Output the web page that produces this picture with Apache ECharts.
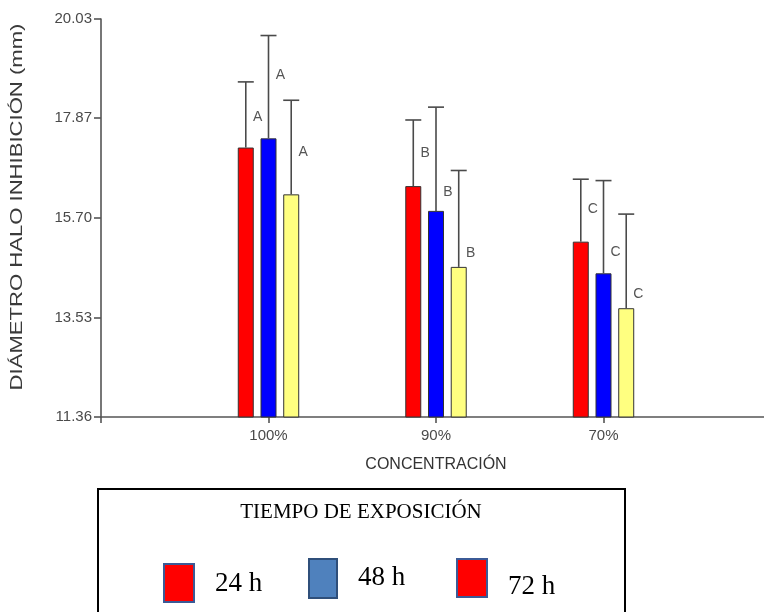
<!DOCTYPE html>
<html>
<head>
<meta charset="utf-8">
<script src="https://cdn.jsdelivr.net/npm/echarts@6/dist/echarts.min.js"></script>
<style>
  html, body { margin: 0; padding: 0; background: #fff; }
  #chart { width: 764px; height: 612px; }
</style>
</head>
<body>
<div id="chart"></div>
<script>
// Inhibition halo diameter (mm) by concentration and exposure time
const categories = ['100%', '90%', '70%'];
const seriesNames = ['24 h', '48 h', '72 h'];
const mean24 = [17.23, 16.39, 15.18];
const mean48 = [17.43, 15.85, 14.49];
const mean72 = [16.21, 14.63, 13.73];
const sd24 = [1.43, 1.44, 1.36];
const sd48 = [2.24, 2.26, 2.02];
const sd72 = [2.05, 2.10, 2.05];
const letters = ['A', 'B', 'C'];
const yTicks = [11.36, 13.53, 15.70, 17.87, 20.03];

const means = [mean24, mean48, mean72];
const sds = [sd24, sd48, sd72];
const barColors = ['#ff0000', '#0000ff', '#ffff80'];

// bar geometry (pixels)
const BAR_W = 16;
const BAR_GAP = 0.42;
const STEP = BAR_W * (1 + BAR_GAP);
// how far above each bar top its significance letter sits (px), per concentration row
const letterRise = [[30, 63, 42], [33, 19, 14], [33, 21, 14]];

const axisCats = [''].concat(categories, [' ']);
const SANS = '"Liberation Sans", Arial, sans-serif';
const SERIF = '"Liberation Serif", "Times New Roman", serif';

const barSeries = means.map((m, k) => ({
  name: seriesNames[k],
  type: 'bar',
  barWidth: BAR_W,
  barGap: (BAR_GAP * 100) + '%',
  itemStyle: { color: barColors[k], borderColor: '#333', borderWidth: 1 },
  data: categories.map((c, i) => [c, m[i]]),
  z: 2
}));

const errSeries = means.map((m, k) => ({
  name: seriesNames[k] + ' sd',
  type: 'custom',
  z: 3,
  clip: false,
  data: categories.map((c, i) => [c, m[i], sds[k][i], letters[i], i]),
  encode: { x: 0, y: 1 },
  renderItem: function (params, api) {
    const cat = api.value(0);
    const mu = api.value(1);
    const sd = api.value(2);
    const row = api.value(4);
    const base = api.coord([cat, mu]);
    const top = api.coord([cat, mu + sd]);
    const x = base[0] + (k - 1) * STEP;
    const half = BAR_W / 2;
    const lineStyle = { stroke: '#4a4a4a', lineWidth: 1.6 };
    return {
      type: 'group',
      children: [
        { type: 'line', shape: { x1: x, y1: base[1], x2: x, y2: top[1] }, style: lineStyle },
        { type: 'line', shape: { x1: x - half, y1: top[1], x2: x + half, y2: top[1] }, style: lineStyle },
        {
          type: 'text',
          x: x + 12,
          y: base[1] - letterRise[row][k],
          style: {
            text: letters[row],
            font: '14px ' + SANS,
            fill: '#555',
            align: 'center',
            verticalAlign: 'middle',
            textAlign: 'center',
            textVerticalAlign: 'middle'
          }
        }
      ]
    };
  }
}));

// legend box elements
const legendItems = [
  { label: seriesNames[0], fill: '#ff0000', stroke: '#3b5a96', rect: [164, 564, 30, 38], tx: 215, ty: 597 },
  { label: seriesNames[1], fill: '#4f81bd', stroke: '#2f4f7a', rect: [309, 559, 28, 39], tx: 358, ty: 591 },
  { label: seriesNames[2], fill: '#ff0000', stroke: '#3b5a96', rect: [457, 559, 30, 38], tx: 508, ty: 600 }
];
const legendGraphics = [
  {
    type: 'rect',
    shape: { x: 98, y: 489, width: 527, height: 140 },
    style: { fill: '#fff', stroke: '#000', lineWidth: 2 },
    z: 10
  },
  {
    type: 'text',
    x: 361, y: 512,
    style: {
      text: 'TIEMPO DE EXPOSICIÓN', font: '21px ' + SERIF, fill: '#000',
      align: 'center', verticalAlign: 'middle', textAlign: 'center', textVerticalAlign: 'middle'
    },
    z: 11
  }
];
legendItems.forEach(it => {
  legendGraphics.push({
    type: 'rect',
    shape: { x: it.rect[0], y: it.rect[1], width: it.rect[2], height: it.rect[3] },
    style: { fill: it.fill, stroke: it.stroke, lineWidth: 2 },
    z: 11
  });
  legendGraphics.push({
    type: 'text',
    x: it.tx, y: it.ty,
    style: {
      text: it.label, font: '27px ' + SERIF, fill: '#000',
      align: 'left', verticalAlign: 'alphabetic', textAlign: 'left', textVerticalAlign: 'bottom'
    },
    z: 11
  });
});

// vertical axis title, stretched along its length
legendGraphics.push({
  type: 'text',
  x: 18, y: 207,
  rotation: Math.PI / 2,
  scaleX: 1.38,
  style: {
    text: 'DIÁMETRO HALO INHIBICIÓN (mm)', font: '16px ' + SANS, fill: '#3a3a3a',
    align: 'center', verticalAlign: 'middle', textAlign: 'center', textVerticalAlign: 'middle'
  }
});

const option = {
  animation: false,
  backgroundColor: '#fff',
  grid: {
    left: 101, width: 670, top: 19, bottom: 195,
    containLabel: false,
    outerBoundsMode: 'none'
  },
  xAxis: {
    type: 'category',
    data: axisCats,
    boundaryGap: false,
    name: 'CONCENTRACIÓN',
    nameLocation: 'middle',
    nameGap: 40,
    nameTextStyle: { fontFamily: SANS, fontSize: 16, color: '#333' },
    axisLine: { lineStyle: { color: '#555', width: 1.6 } },
    axisTick: { length: 6, lineStyle: { color: '#555', width: 1.6 } },
    axisLabel: { fontFamily: SANS, fontSize: 15, color: '#4a4a4a', margin: 11 },
    splitLine: { show: false }
  },
  yAxis: {
    type: 'value',
    min: yTicks[0],
    max: yTicks[yTicks.length - 1],
    axisLine: { show: true, lineStyle: { color: '#555', width: 1.6 } },
    axisTick: { show: true, length: 7, customValues: yTicks, lineStyle: { color: '#555', width: 1.6 } },
    axisLabel: {
      fontFamily: SANS, fontSize: 15, color: '#4a4a4a', margin: 9,
      customValues: yTicks,
      formatter: v => Number(v).toFixed(2)
    },
    splitLine: { show: false }
  },
  series: barSeries.concat(errSeries),
  graphic: legendGraphics
};

const chart = echarts.init(document.getElementById('chart'), null, { renderer: 'canvas' });
chart.setOption(option);
</script>
</body>
</html>
